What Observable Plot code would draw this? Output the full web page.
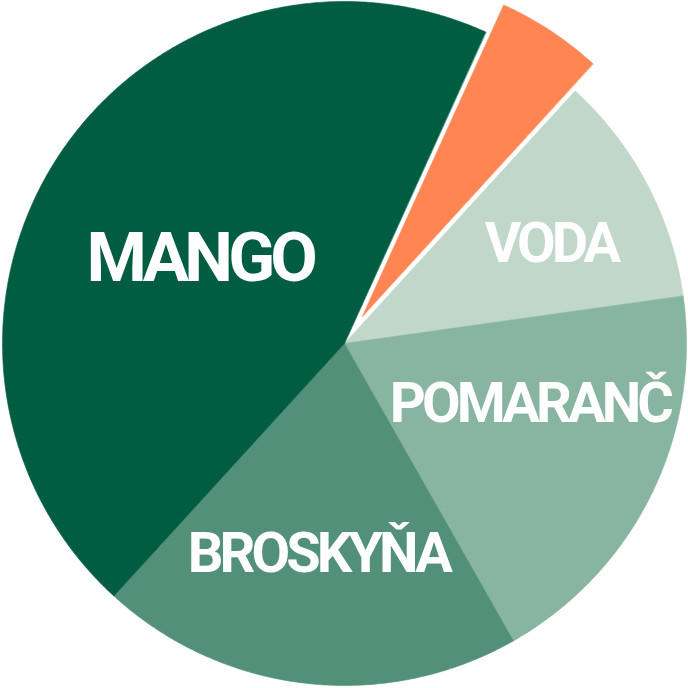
<!DOCTYPE html>
<html>
<head>
<meta charset="utf-8">
<script src="https://cdn.jsdelivr.net/npm/d3@7"></script>
<script src="https://cdn.jsdelivr.net/npm/@observablehq/plot@0.6"></script>
<style>
  html, body { margin: 0; padding: 0; background: #ffffff; }
  #chart svg text { letter-spacing: -0.07em; }
</style>
</head>
<body>
<div id="chart"></div>
<script>
// ---- data ----
const names  = ["", "VODA", "POMARANČ", "BROSKYŇA", "MANGO"];
const values = [5, 11, 19, 20, 45];
const colors = ["#ff8552", "#c0d7c9", "#88b4a2", "#52907a", "#015d42"];
const exploded = [true, false, false, false, false];

// ---- layout config ----
const W = 688, H = 688;
const cxPx = 344, cyPx = 343, rPx = 342;
const startDeg = 24.4;          // clockwise from north
const explodeR = 0.095;         // in radius units
const labelLayout = {
  "MANGO":    {r: 0.49, da: -3.1, size: 69},
  "VODA":     {r: 0.67, da:  2.1, size: 56},
  "POMARANČ": {r: 0.57, da: -8.2, size: 56},
  "BROSKYŇA": {r: 0.62, da:  0.7, size: 56}
};

const rad = d => d * Math.PI / 180;
const total = d3.sum(values);
let acc = startDeg;
const slices = names.map((name, i) => {
  const a0 = acc, a1 = acc + values[i] / total * 360;
  acc = a1;
  return {k: i, name, value: values[i], color: colors[i], a0, a1, mid: (a0 + a1) / 2, exploded: exploded[i]};
});

// polygon points for each slice (angles measured clockwise from north)
const pts = [];
slices.forEach(s => {
  const off = s.exploded ? explodeR : 0;
  const ox = off * Math.sin(rad(s.mid)), oy = off * Math.cos(rad(s.mid));
  pts.push({k: s.k, color: s.color, x: ox, y: oy});
  const n = Math.max(8, Math.ceil((s.a1 - s.a0) * 2));
  for (let j = 0; j <= n; j++) {
    const a = s.a0 + (s.a1 - s.a0) * j / n;
    pts.push({k: s.k, color: s.color, x: ox + Math.sin(rad(a)), y: oy + Math.cos(rad(a))});
  }
});

const labels = slices.filter(s => labelLayout[s.name]).map(s => {
  const L = labelLayout[s.name];
  const a = s.mid + L.da;
  return {name: s.name, size: L.size, x: L.r * Math.sin(rad(a)), y: L.r * Math.cos(rad(a))};
});

const xd = [-cxPx / rPx, (W - cxPx) / rPx];
const yd = [-(H - cyPx) / rPx, cyPx / rPx];

const textMarks = [69, 56].map(sz => Plot.text(labels.filter(l => l.size === sz), {
  x: "x", y: "y", text: "name",
  fill: "white", fontSize: sz, fontWeight: 700,
  fontFamily: "Roboto, 'Noto Sans', sans-serif",
  textAnchor: "middle", lineAnchor: "middle"
}));

const chart = Plot.plot({
  width: W, height: H,
  margin: 0,
  x: {domain: xd, axis: null},
  y: {domain: yd, axis: null},
  color: {type: "identity"},
  style: {background: "white"},
  marks: [
    Plot.line(pts, {
      x: "x", y: "y", z: "k",
      fill: "color", stroke: "color", strokeWidth: 0.6,
      curve: "linear-closed"
    }),
    ...textMarks
  ]
});
document.getElementById("chart").appendChild(chart);
</script>
</body>
</html>
